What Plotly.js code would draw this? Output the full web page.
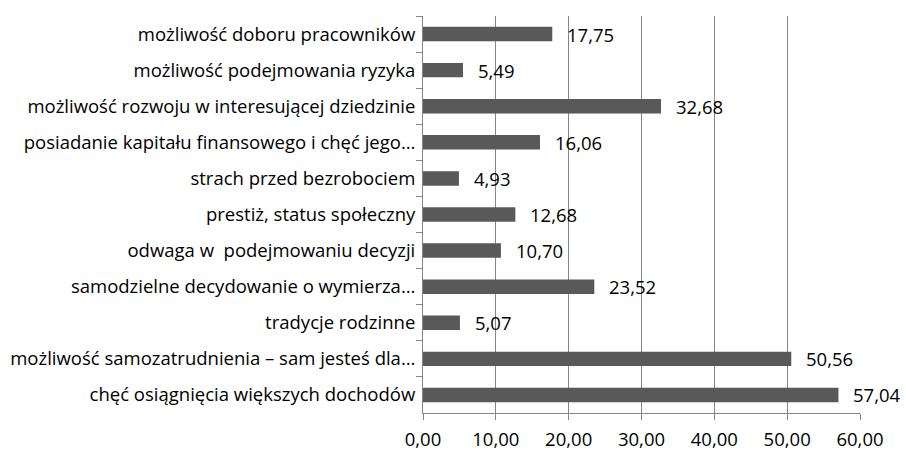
<!DOCTYPE html>
<html>
<head>
<meta charset="utf-8">
<script src="https://cdn.plot.ly/plotly-3.0.1.min.js"></script>
<style>html,body{margin:0;padding:0;background:#fff;}#chart{width:906px;height:451px;}</style>
</head>
<body>
<div id="chart"></div>
<script>
const categories = [
  "możliwość doboru pracowników",
  "możliwość podejmowania ryzyka",
  "możliwość rozwoju w interesującej dziedzinie",
  "posiadanie kapitału finansowego i chęć jego…",
  "strach przed bezrobociem",
  "prestiż, status społeczny",
  "odwaga w  podejmowaniu decyzji",
  "samodzielne decydowanie o wymierza…",
  "tradycje rodzinne",
  "możliwość samozatrudnienia – sam jesteś dla…",
  "chęć osiągnięcia większych dochodów"
];
const values = [17.75, 5.49, 32.68, 16.06, 4.93, 12.68, 10.70, 23.52, 5.07, 50.56, 57.04];
const xTicks = [0, 10, 20, 30, 40, 50, 60];

const FONT = "'Open Sans', 'Noto Sans', sans-serif";
const FS = 18.5;

const trace = {
  type: 'bar',
  orientation: 'h',
  x: values,
  y: categories,
  marker: {color: '#595959'},
  hoverinfo: 'none'
};

const annotations = values.map((v, i) => ({
  x: v, y: categories[i], xref: 'x', yref: 'y',
  text: v.toFixed(2).replace('.', ','),
  showarrow: false, xanchor: 'left', yanchor: 'middle',
  xshift: 13, yshift: 0,
  font: {family: FONT, size: FS, color: '#000'}
}));

const layout = {
  width: 906, height: 451,
  margin: {l: 423, r: 46, t: 16, b: 38, pad: 0},
  paper_bgcolor: '#fff', plot_bgcolor: '#fff',
  separators: ',.',
  showlegend: false,
  bargap: 0.6,
  font: {family: FONT, size: FS, color: '#000'},
  xaxis: {
    range: [0, 60], tickvals: xTicks, tickformat: '.2f',
    showgrid: true, gridcolor: '#868686', gridwidth: 1,
    showline: true, linecolor: '#868686', linewidth: 1,
    ticks: 'outside', ticklen: 6, tickcolor: '#868686',
    ticklabelstandoff: 4,
    zeroline: false, fixedrange: true,
    tickfont: {family: FONT, size: FS, color: '#000'}
  },
  yaxis: {
    type: 'category', autorange: 'reversed',
    tickson: 'boundaries',
    showgrid: false, zeroline: false,
    showline: true, linecolor: '#868686', linewidth: 1,
    ticks: 'outside', ticklen: 6, tickcolor: '#868686',
    ticklabelstandoff: 3,
    tickfont: {family: FONT, size: FS, color: '#000'}
  },
  annotations: annotations
};

Plotly.newPlot('chart', [trace], layout, {displayModeBar: false, staticPlot: true});
</script>
</body>
</html>
